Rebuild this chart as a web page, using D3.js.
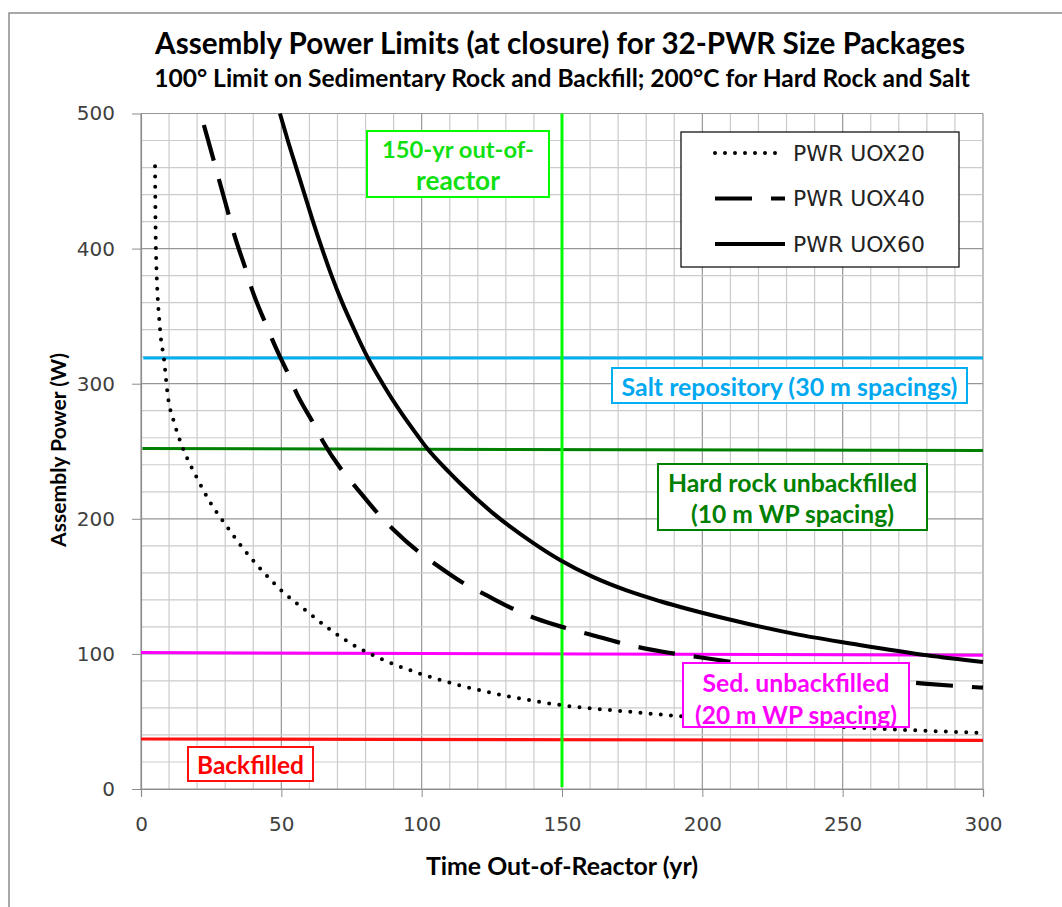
<!DOCTYPE html>
<html>
<head>
<meta charset="utf-8">
<script src="https://cdn.jsdelivr.net/npm/d3@7"></script>
<style>
  body { margin: 0; background: #fff; }
</style>
</head>
<body>
<div id="chart"></div>
<script>
// Assembly power limits vs time out of reactor, 32-PWR size packages

const YEAR_TICKS  = [0, 50, 100, 150, 200, 250, 300];
const POWER_TICKS = [0, 100, 200, 300, 400, 500];

// [year, watts]
const uox20 = [[5, 461], [5.3, 400], [6.8, 340], [8.2, 318], [9.5, 292], [12, 270], [15, 252],
  [20, 230], [25, 211], [30, 196], [36, 179], [43, 162], [50, 147], [60, 130], [68, 117],
  [77, 105], [87, 95], [100, 85], [115, 76], [135, 67], [150, 62], [175, 57], [200, 52.5],
  [225, 49], [250, 46], [275, 43.5], [300, 41.5]];
const uox40 = [[22.4, 491.5], [26, 464.6], [27.8, 451], [31.4, 424], [33.2, 410.5], [37.4, 384],
  [39.4, 370.6], [44.5, 344], [46.7, 333], [49.5, 320], [52.5, 307], [55.2, 294], [61.6, 270],
  [64.9, 257], [72.3, 234], [76.6, 223.3], [84.9, 202.8], [90.1, 191.7], [99.6, 174.4],
  [105.3, 165.8], [116, 151], [122.5, 144], [134, 132], [141, 126], [150, 120], [160, 114.4],
  [173, 107], [185, 102], [199, 97.5], [225, 90], [250, 84], [279, 78], [300, 75]];
const uox60 = [[49.5, 500], [52.3, 480], [55.3, 460], [58.3, 440], [61.3, 420], [64.5, 400],
  [67.9, 380], [71.7, 360], [76, 340], [80.6, 320], [86.1, 300], [92.2, 280], [98.4, 262],
  [102, 252], [110, 234], [113.6, 226.5], [125.5, 204], [139.8, 182], [149.3, 169.5],
  [161, 157], [173, 147], [185, 139], [208.6, 126], [232.4, 115], [256, 106.6], [280, 99],
  [300, 94]];

const SERIES_NAMES = ['PWR UOX20', 'PWR UOX40', 'PWR UOX60'];

// limit lines
const saltLine     = [[0.8, 319], [300, 319]];
const hardRockLine = [[0.5, 252], [300, 250.5]];
const sedLine      = [[0, 101], [300, 99]];
const backfillLine = [[0, 37], [300, 36]];
const OUT_OF_REACTOR_YEAR = 150;

(function () {
    const W = 1062, H = 907;
    const plot = { left: 141, right: 983, top: 113.5, bottom: 789 };

    const x = d3.scaleLinear().domain([0, 300]).range([plot.left, plot.right]);
    const y = d3.scaleLinear().domain([0, 500]).range([plot.bottom, plot.top]);

    const svg = d3.select('#chart').append('svg')
        .attr('width', W).attr('height', H)
        .attr('viewBox', `0 0 ${W} ${H}`);

    const BOLD = 'Lato, "Liberation Sans", sans-serif';
    const REG  = '"DejaVu Sans", sans-serif';

    function fitWidth(sel, w) {
        const len = sel.node().getComputedTextLength();
        const fs = parseFloat(sel.attr('font-size'));
        sel.attr('font-size', (fs * w / len).toFixed(2));
        return sel;
    }

    // outer chart frame
    svg.append('rect')
        .attr('x', 9).attr('y', 13).attr('width', W + 20).attr('height', H + 20)
        .attr('fill', 'none').attr('stroke', '#8c8c8c').attr('stroke-width', 1.5);

    // titles
    fitWidth(svg.append('text')
        .attr('x', 560).attr('y', 42).attr('text-anchor', 'middle').attr('dominant-baseline', 'central')
        .attr('font-family', BOLD).attr('font-weight', 700).attr('font-size', 24).attr('fill', '#000')
        .text('Assembly Power Limits (at closure) for 32-PWR Size Packages'), 810);

    fitWidth(svg.append('text')
        .attr('x', 562).attr('y', 77).attr('text-anchor', 'middle').attr('dominant-baseline', 'central')
        .attr('font-family', BOLD).attr('font-weight', 700).attr('font-size', 18).attr('fill', '#000')
        .text('100° Limit on Sedimentary Rock and Backfill; 200°C for Hard Rock and Salt'), 816);

    // grid
    const g = svg.append('g');
    const minorX = d3.range(0, 301, 10), minorY = d3.range(0, 501, 20);

    g.selectAll('.vgrid').data(minorX).enter().append('line')
        .attr('x1', d => x(d)).attr('x2', d => x(d))
        .attr('y1', plot.top).attr('y2', plot.bottom)
        .attr('stroke', d => d % 50 === 0 ? '#969696' : '#cbcbcb').attr('stroke-width', 1.2);

    g.selectAll('.hgrid').data(minorY).enter().append('line')
        .attr('x1', plot.left).attr('x2', plot.right)
        .attr('y1', d => y(d)).attr('y2', d => y(d))
        .attr('stroke', d => d % 100 === 0 ? '#969696' : '#cbcbcb').attr('stroke-width', 1.2);

    // axes
    g.append('g').attr('transform', `translate(0,${plot.bottom})`)
        .call(d3.axisBottom(x).tickValues(YEAR_TICKS).tickSize(8).tickPadding(20).tickFormat(d3.format('d')))
        .call(a => a.select('.domain').attr('stroke', '#8c8c8c').attr('stroke-width', 1.2))
        .call(a => a.selectAll('.tick line').attr('stroke', '#8c8c8c'))
        .selectAll('text').attr('font-family', REG).attr('font-size', 20).attr('fill', '#404040');

    g.append('g').attr('transform', `translate(${plot.left},0)`)
        .call(d3.axisLeft(y).tickValues(POWER_TICKS).tickSize(9).tickPadding(17).tickSizeOuter(0))
        .call(a => a.select('.domain').attr('stroke', '#8c8c8c').attr('stroke-width', 1.2))
        .call(a => a.selectAll('.tick line').attr('stroke', '#8c8c8c'))
        .selectAll('text').attr('font-family', REG).attr('font-size', 20).attr('fill', '#404040');

    // axis titles
    fitWidth(svg.append('text')
        .attr('transform', 'translate(57,450) rotate(-90)')
        .attr('text-anchor', 'middle').attr('dominant-baseline', 'central')
        .attr('font-family', BOLD).attr('font-weight', 700).attr('font-size', 20)
        .text('Assembly Power (W)'), 194);

    fitWidth(svg.append('text')
        .attr('x', 562).attr('y', 865).attr('text-anchor', 'middle').attr('dominant-baseline', 'central')
        .attr('font-family', BOLD).attr('font-weight', 700).attr('font-size', 20)
        .text('Time Out-of-Reactor (yr)'), 272);

    const line = d3.line().x(d => x(d[0])).y(d => y(d[1]));
    const curve = d3.line().x(d => x(d[0])).y(d => y(d[1])).curve(d3.curveMonotoneX);

    // limit lines
    const limits = [
        { data: saltLine, color: '#00b0f0', w: 3 },
        { data: hardRockLine, color: '#008000', w: 3 },
        { data: sedLine, color: '#ff00ff', w: 3 },
        { data: backfillLine, color: '#ff1010', w: 3.2 }
    ];
    limits.forEach(l => {
        g.append('path').datum(l.data).attr('d', line)
            .attr('fill', 'none').attr('stroke', l.color).attr('stroke-width', l.w);
    });

    g.append('line')
        .attr('x1', x(OUT_OF_REACTOR_YEAR)).attr('x2', x(OUT_OF_REACTOR_YEAR))
        .attr('y1', y(500)).attr('y2', y(1.5))
        .attr('stroke', '#00ff00').attr('stroke-width', 3);

    // power curves
    const styles = [
        { data: uox20, dash: '0,10.2', cap: 'round', w: 4 },
        { data: uox40, dash: '37,19', cap: 'butt', w: 4.2 },
        { data: uox60, dash: null, cap: 'butt', w: 4 }
    ];
    styles.forEach(s => {
        g.append('path').datum(s.data).attr('d', curve)
            .attr('fill', 'none').attr('stroke', '#000').attr('stroke-width', s.w)
            .attr('stroke-linecap', s.cap)
            .attr('stroke-dasharray', s.dash);
    });

    // boxed labels
    function boxLabel(box, color, textColor, lines) {
        const grp = svg.append('g');
        grp.append('rect')
            .attr('x', box[0]).attr('y', box[1]).attr('width', box[2] - box[0]).attr('height', box[3] - box[1])
            .attr('fill', '#fff').attr('stroke', color).attr('stroke-width', 2);
        lines.forEach(ln => {
            fitWidth(grp.append('text')
                .attr('x', (box[0] + box[2]) / 2).attr('y', ln.y)
                .attr('text-anchor', 'middle').attr('dominant-baseline', 'central')
                .attr('font-family', BOLD).attr('font-weight', 700).attr('font-size', 20)
                .attr('fill', textColor).text(ln.t), ln.w);
        });
    }

    boxLabel([367, 131, 549, 197], '#00ff00', '#10e010',
        [{ t: '150-yr out-of-', y: 149, w: 152 }, { t: 'reactor', y: 180, w: 84 }]);
    boxLabel([612, 368, 967, 403], '#00b0f0', '#00a8f0',
        [{ t: 'Salt repository (30 m spacings)', y: 386, w: 336 }]);
    boxLabel([658, 464, 927, 530], '#008000', '#008000',
        [{ t: 'Hard rock unbackfilled', y: 482, w: 249 }, { t: '(10 m WP spacing)', y: 513, w: 203 }]);
    boxLabel([683, 663, 909, 727], '#ff00ff', '#ff00ff',
        [{ t: 'Sed. unbackfilled', y: 682, w: 187 }, { t: '(20 m WP spacing)', y: 714, w: 202 }]);
    boxLabel([188, 747, 313, 781], '#ff1010', '#ff0000',
        [{ t: 'Backfilled', y: 764, w: 107 }]);

    // legend
    const legend = svg.append('g');
    legend.append('rect')
        .attr('x', 681).attr('y', 132).attr('width', 278).attr('height', 135)
        .attr('fill', '#fff').attr('stroke', '#000').attr('stroke-width', 1.2);
    SERIES_NAMES.forEach((name, i) => {
        const cy = 153 + i * 45.5;
        legend.append('line')
            .attr('x1', 715).attr('x2', 785).attr('y1', cy).attr('y2', cy)
            .attr('stroke', '#000').attr('stroke-width', styles[i].w)
            .attr('stroke-linecap', styles[i].cap)
            .attr('stroke-dasharray', i === 0 ? '0,10' : styles[i].dash);
        fitWidth(legend.append('text')
            .attr('x', 793).attr('y', cy).attr('dominant-baseline', 'central')
            .attr('font-family', REG).attr('font-size', 20).attr('fill', '#222')
            .text(name), 132);
    });
})();
</script>
</body>
</html>
